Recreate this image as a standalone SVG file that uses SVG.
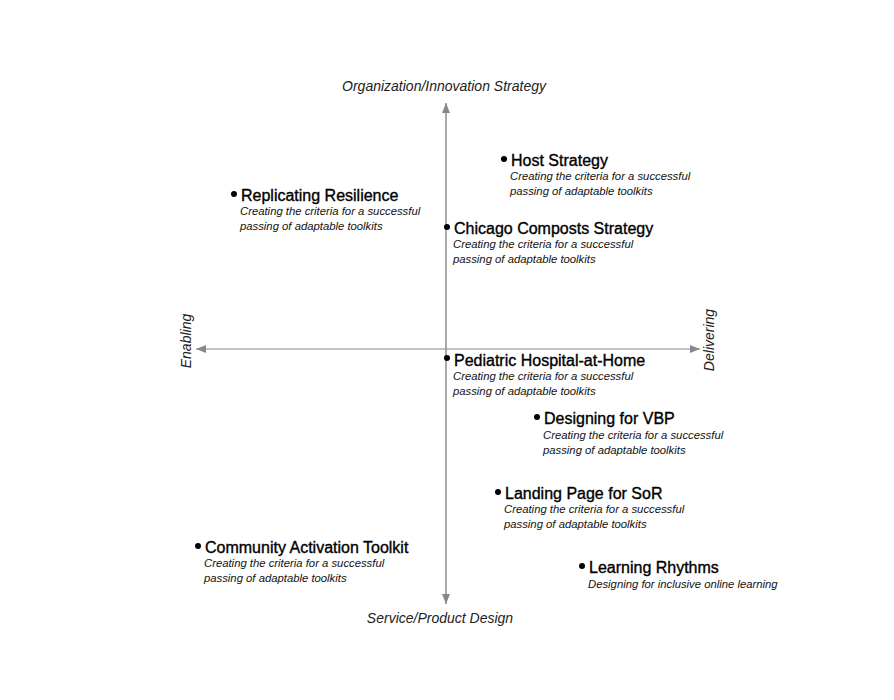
<svg xmlns="http://www.w3.org/2000/svg" width="894" height="700" viewBox="0 0 894 700">
<style>
.t{font-family:"Liberation Sans",Arial,sans-serif;font-size:16px;fill:#000;stroke:#000;stroke-width:0.35}
.s{font-family:"Liberation Sans",Arial,sans-serif;font-size:11.3px;font-style:italic;fill:#111}
.ax{font-family:"Liberation Sans",Arial,sans-serif;font-size:14px;font-style:italic;fill:#222}
.dot{fill:#000}
</style>
<defs>
<marker id="ah" viewBox="0 0 10 10" refX="10" refY="5" markerWidth="10" markerHeight="10" markerUnits="userSpaceOnUse" orient="auto">
<path d="M0,1 L10,5 L0,9 z" fill="#888"/>
</marker>
</defs>
<rect width="894" height="700" fill="#fff"/>
<g id="connectors">
<line x1="446" y1="350" x2="446" y2="103" stroke="#aaa" stroke-width="2" marker-end="url(#ah)"/>
<line x1="446" y1="350" x2="446" y2="604" stroke="#aaa" stroke-width="2" marker-end="url(#ah)"/>
<line x1="446" y1="349" x2="196" y2="349" stroke="#888" stroke-width="1.2" marker-end="url(#ah)"/>
<line x1="446" y1="349" x2="700" y2="349" stroke="#888" stroke-width="1.2" marker-end="url(#ah)"/>
</g>
<g id="axis-labels">
<text class="ax" x="444" y="91" text-anchor="middle">Organization/Innovation Strategy</text>
<text class="ax" x="440" y="623" text-anchor="middle">Service/Product Design</text>
<text class="ax" transform="translate(191,341) rotate(-90)" text-anchor="middle">Enabling</text>
<text class="ax" transform="translate(714,340) rotate(-90)" text-anchor="middle">Delivering</text>
</g>
<g id="host-strategy">
<circle class="dot" cx="504" cy="159" r="3"/>
<text class="t" x="511" y="166">Host Strategy</text>
<text class="s" x="510" y="180">Creating the criteria for a successful</text>
<text class="s" x="510" y="195">passing of adaptable toolkits</text>
</g>
<g id="replicating-resilience">
<circle class="dot" cx="234" cy="194" r="3"/>
<text class="t" x="241" y="201">Replicating Resilience</text>
<text class="s" x="240" y="215">Creating the criteria for a successful</text>
<text class="s" x="240" y="230">passing of adaptable toolkits</text>
</g>
<g id="chicago-composts">
<circle class="dot" cx="447" cy="227" r="3"/>
<text class="t" x="454" y="234">Chicago Composts Strategy</text>
<text class="s" x="453" y="248">Creating the criteria for a successful</text>
<text class="s" x="453" y="263">passing of adaptable toolkits</text>
</g>
<g id="pediatric-hospital">
<circle class="dot" cx="447" cy="358" r="3"/>
<text class="t" x="454" y="366">Pediatric Hospital-at-Home</text>
<text class="s" x="453" y="380">Creating the criteria for a successful</text>
<text class="s" x="453" y="395">passing of adaptable toolkits</text>
</g>
<g id="designing-vbp">
<circle class="dot" cx="537" cy="417" r="3"/>
<text class="t" x="544" y="424">Designing for VBP</text>
<text class="s" x="543" y="439">Creating the criteria for a successful</text>
<text class="s" x="543" y="454">passing of adaptable toolkits</text>
</g>
<g id="landing-page">
<circle class="dot" cx="498" cy="492" r="3"/>
<text class="t" x="505" y="499">Landing Page for SoR</text>
<text class="s" x="504" y="513">Creating the criteria for a successful</text>
<text class="s" x="504" y="528">passing of adaptable toolkits</text>
</g>
<g id="community-activation">
<circle class="dot" cx="198" cy="546" r="3"/>
<text class="t" x="205" y="553">Community Activation Toolkit</text>
<text class="s" x="204" y="567">Creating the criteria for a successful</text>
<text class="s" x="204" y="582">passing of adaptable toolkits</text>
</g>
<g id="learning-rhythms">
<circle class="dot" cx="582" cy="566" r="3"/>
<text class="t" x="589" y="573">Learning Rhythms</text>
<text class="s" x="588" y="588">Designing for inclusive online learning</text>
</g>
</svg>
